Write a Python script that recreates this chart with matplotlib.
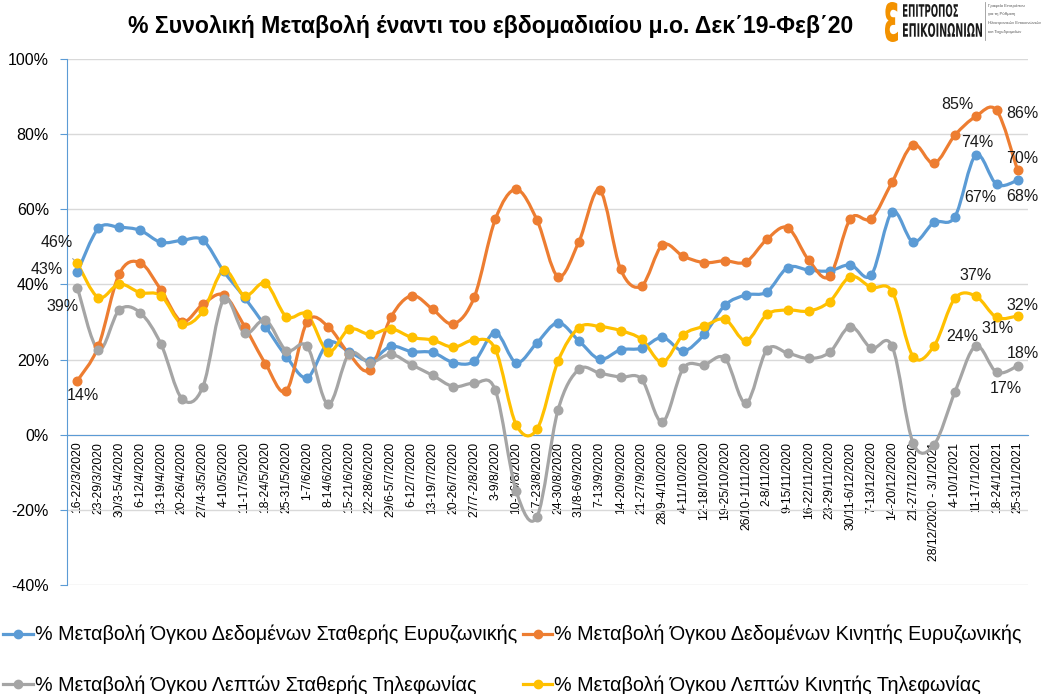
import numpy as np
import matplotlib.pyplot as plt
from matplotlib.path import Path
from matplotlib.patches import PathPatch
from matplotlib.lines import Line2D
from matplotlib.textpath import TextPath
from matplotlib.font_manager import FontProperties
from matplotlib.transforms import Affine2D

plt.rcParams['font.family'] = ['Liberation Sans', 'DejaVu Sans']

weeks = ['16-22/3/2020', '23-29/3/2020', '30/3-5/4/2020', '6-12/4/2020', '13-19/4/2020',
         '20-26/4/2020', '27/4-3/5/2020', '4-10/5/2020', '11-17/5/2020', '18-24/5/2020',
         '25-31/5/2020', '1-7/6/2020', '8-14/6/2020', '15-21/6/2020', '22-28/6/2020',
         '29/6-5/7/2020', '6-12/7/2020', '13-19/7/2020', '20-26/7/2020', '27/7-2/8/2020',
         '3-9/8/2020', '10-16/8/2020', '17-23/8/2020', '24-30/8/2020', '31/8-6/9/2020',
         '7-13/9/2020', '14-20/9/2020', '21-27/9/2020', '28/9-4/10/2020', '4-11/10/2020',
         '12-18/10/2020', '19-25/10/2020', '26/10-1/11/2020', '2-8/11/2020', '9-15/11/2020',
         '16-22/11/2020', '23-29/11/2020', '30/11-6/12/2020', '7-13/12/2020', '14-20/12/2020',
         '21-27/12/2020', '28/12/2020 - 3/1/2021', '4-10/1/2021', '11-17/1/2021',
         '18-24/1/2021', '25-31/1/2021']

fixed_data = [43.3, 54.9, 55.2, 54.4, 51.2, 51.7, 51.8, 43.5, 36.5, 28.8,
              20.8, 15.2, 24.5, 22.1, 19.7, 23.5, 22.1, 21.9, 19.2, 19.6,
              27.2, 19.2, 24.5, 29.8, 25.0, 20.1, 22.6, 23.0, 25.9, 22.3,
              26.7, 34.5, 37.2, 38.0, 44.5, 43.8, 43.6, 45.2, 42.5, 59.3,
              51.3, 56.5, 58.0, 74.4, 66.6, 67.7]
mobile_data = [14.4, 23.5, 42.8, 45.8, 38.5, 30.1, 34.7, 37.2, 28.8, 18.9,
               11.7, 30.1, 28.8, 21.5, 17.3, 31.2, 37.0, 33.4, 29.5, 36.7,
               57.3, 65.3, 57.1, 42.1, 51.3, 65.1, 44.0, 39.6, 50.5, 47.5,
               45.8, 46.3, 46.0, 52.0, 55.1, 46.5, 42.2, 57.5, 57.5, 67.3,
               77.2, 72.2, 79.7, 84.7, 86.3, 70.4]
fixed_voice = [39.1, 22.6, 33.2, 32.5, 24.1, 9.6, 12.7, 36.0, 27.0, 30.5,
               22.4, 23.5, 8.1, 21.5, 19.2, 21.4, 18.6, 15.8, 12.8, 13.7,
               11.9, -15.0, -21.8, 6.5, 17.4, 16.4, 15.3, 14.8, 3.4, 17.7,
               18.6, 20.3, 8.4, 22.6, 21.7, 20.3, 21.9, 28.8, 23.0, 23.5,
               -2.2, -2.7, 11.3, 23.6, 16.6, 18.3]
mobile_voice = [45.6, 36.5, 40.1, 37.8, 37.0, 29.5, 32.8, 43.8, 37.0, 40.3,
                31.4, 32.0, 22.1, 28.1, 26.7, 28.2, 25.9, 25.2, 23.3, 25.2,
                22.8, 2.7, 1.5, 19.5, 28.5, 28.8, 27.7, 25.4, 19.3, 26.6,
                28.9, 30.7, 25.0, 32.0, 33.2, 32.9, 35.4, 42.1, 39.2, 38.1,
                20.8, 23.6, 36.3, 36.9, 31.2, 31.6]

series_names = ['% Μεταβολή Όγκου Δεδομένων Σταθερής Ευρυζωνικής',
                '% Μεταβολή Όγκου Δεδομένων Κινητής Ευρυζωνικής',
                '% Μεταβολή Όγκου Λεπτών Σταθερής Τηλεφωνίας',
                '% Μεταβολή Όγκου Λεπτών Κινητής Τηλεφωνίας']
colors = ['#5B9BD5', '#ED7D31', '#A5A5A5', '#FFC000']

title = '% Συνολική Μεταβολή έναντι του εβδομαδιαίου μ.ο. Δεκ΄19-Φεβ΄20'


def smooth_path(xs, ys):
    # excel-like smoothed line: catmull-rom turned into cubic bezier pieces
    pts = np.column_stack([xs, ys]).astype(float)
    ext = np.vstack([pts[0], pts, pts[-1]])
    verts = [pts[0]]
    codes = [Path.MOVETO]
    for i in range(len(pts) - 1):
        p0, p1, p2, p3 = ext[i], ext[i + 1], ext[i + 2], ext[i + 3]
        verts += [p1 + (p2 - p0) / 6, p2 - (p3 - p1) / 6, p2]
        codes += [Path.CURVE4] * 3
    return Path(verts, codes)


fig = plt.figure(figsize=(10.41, 6.94), dpi=100)
ax = fig.add_axes([67 / 1041, 1 - 585 / 694, 961 / 1041, 526 / 694])

# move the category axis to 0 first (this resets the ticks)
for s in ['top', 'right']:
    ax.spines[s].set_visible(False)
ax.spines['left'].set_color('#5B9BD5')
ax.spines['bottom'].set_position(('data', 0))
ax.spines['bottom'].set_color('#5B9BD5')
ax.spines['bottom'].set_zorder(2)

x = np.arange(len(weeks))
all_series = [fixed_data, mobile_data, fixed_voice, mobile_voice]
for vals, c in zip(all_series, colors):
    ax.add_patch(PathPatch(smooth_path(x, vals), fill=False, edgecolor=c, lw=2.3,
                           capstyle='round', joinstyle='round', zorder=3))
    ax.plot(x, vals, 'o', color=c, ms=6.2, zorder=4)

ax.set_xlim(-0.5, len(weeks) - 0.5)
ax.set_ylim(-40, 100)
ax.set_yticks(range(-40, 101, 20))
ax.set_yticklabels([f'{v}%' for v in range(-40, 101, 20)], fontsize=11.5)
ax.set_xticks(x)
ax.set_xticklabels(weeks, rotation=90, fontsize=8.7, ha='center', va='top')
ax.tick_params(axis='x', length=0, pad=5)
ax.tick_params(axis='y', length=5, color='#5B9BD5', pad=8)
ax.grid(axis='y', color='#D9D9D9', lw=1)
ax.set_axisbelow(True)

# data labels (offsets in pixels)
labels = [
    (fixed_data, 0, -31, 3), (mobile_data, 0, 5, -15), (fixed_voice, 0, -15, -19),
    (mobile_data, 43, -18, 12), (mobile_data, 44, 26, -3), (fixed_data, 43, 1, 13),
    (mobile_data, 45, 5, 12), (fixed_data, 44, -16, -13), (fixed_data, 45, 5, -16),
    (mobile_voice, 43, 0, 21), (mobile_voice, 45, 5, 10), (mobile_voice, 44, 1, -11),
    (fixed_voice, 43, -13, 10), (fixed_voice, 45, 5, 12), (fixed_voice, 44, 9, -16),
]
for vals, i, dx, dy in labels:
    ax.annotate(f'{vals[i]:.0f}%', (x[i], vals[i]), xytext=(dx, dy),
                textcoords='offset pixels', ha='center', va='center',
                fontsize=11.5, color='#1a1a1a', zorder=5, annotation_clip=False)
ax.annotate(f'{mobile_voice[0]:.0f}%', (x[0], mobile_voice[0]), xytext=(-21, 21),
            textcoords='offset pixels', ha='center', va='center', fontsize=11.5,
            color='#1a1a1a', annotation_clip=False,
            arrowprops=dict(arrowstyle='-', color='#A5A5A5', lw=0.8,
                            shrinkA=6, shrinkB=3))

fig.text(0.471, 1 - 27 / 694, title, ha='center', va='center', fontsize=16.6,
         fontweight='bold')

# legend fills column by column, so reorder to get blue/orange on the first row
order = [0, 2, 1, 3]
handles = [Line2D([], [], color=colors[i], lw=2.3, marker='o', ms=6) for i in order]
fig.legend(handles, [series_names[i] for i in order], loc='upper left',
           bbox_to_anchor=(0.003, 1 - 625 / 694), ncol=2, frameon=False, fontsize=14.2,
           handlelength=1.5, handletextpad=0.1, columnspacing=0.3, labelspacing=1.55,
           borderpad=0, borderaxespad=0)


# logo, top right
def logo_text(s, x0, y0, w, h, color, weight='bold'):
    tp = TextPath((0, 0), s, size=20,
                  prop=FontProperties(family=['DejaVu Sans'], weight=weight))
    bb = tp.get_extents()
    tr = (Affine2D().translate(-bb.x0, -bb.y0).scale(w / bb.width, h / bb.height)
          .translate(x0, 694 - y0 - h).scale(1 / 100) + fig.dpi_scale_trans)
    fig.add_artist(PathPatch(tp, transform=tr, facecolor=color, lw=0))


logo_text('ε', 885, 2, 13, 40, '#F39200')
logo_text('ΕΠΙΤΡΟΠΟΣ', 903, 4, 55, 13, '#1a1a1a')
logo_text('ΕΠΙΚΟΙΝΩΝΙΩΝ', 903, 23, 79, 14, '#1a1a1a')
fig.add_artist(Line2D([985 / 1041, 985 / 1041], [1 - 2 / 694, 1 - 40 / 694],
                      color='#999999', lw=0.6))
for k, line in enumerate(['Γραφείο Επιτρόπου', 'για τη Ρύθμιση',
                          'Ηλεκτρονικών Επικοινωνιών', 'και Ταχυδρομείων']):
    fig.text(988 / 1041, 1 - (6 + 8.5 * k) / 694, line, fontsize=3.1, color='#555555',
             va='center', ha='left')

fig.savefig('out.png', dpi=100)
